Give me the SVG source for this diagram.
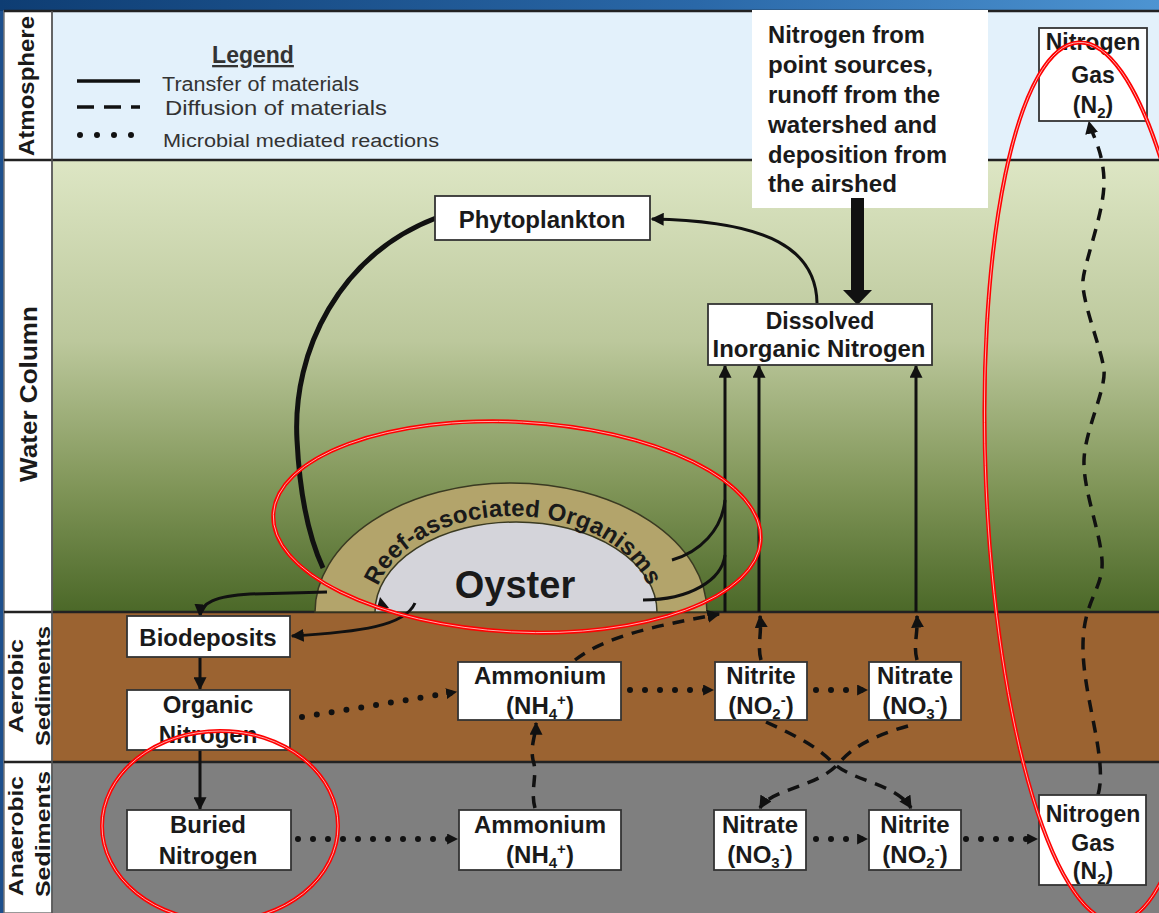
<svg xmlns="http://www.w3.org/2000/svg" width="1159" height="913" viewBox="0 0 1159 913">
<defs>
<linearGradient id="topbar" x1="0" y1="0" x2="1" y2="0"><stop offset="0" stop-color="#0e3d73"/><stop offset="0.6" stop-color="#2a68a8"/><stop offset="1" stop-color="#4d94d2"/></linearGradient>
<linearGradient id="water" x1="0" y1="0" x2="0" y2="1"><stop offset="0" stop-color="#dde6c4"/><stop offset="0.4" stop-color="#bcc89c"/><stop offset="0.72" stop-color="#819659"/><stop offset="1" stop-color="#4b6828"/></linearGradient>
<marker id="ah" viewBox="0 0 10 10" refX="9" refY="5" markerWidth="13" markerHeight="13" markerUnits="userSpaceOnUse" orient="auto"><path d="M0,0 L10,5 L0,10 z" fill="#111"/></marker>
<marker id="ahs" viewBox="0 0 10 10" refX="9" refY="5" markerWidth="11" markerHeight="11" markerUnits="userSpaceOnUse" orient="auto"><path d="M0,0 L10,5 L0,10 z" fill="#111"/></marker>
<path id="reefArc" d="M373,612 A140,96 0 0 1 653,612"/>
<style>
.box{fill:#fff;stroke:#333;stroke-width:1.8}
.bt{font-family:"Liberation Sans",Arial,sans-serif;font-weight:bold;font-size:24px;fill:#1a1a1a;text-anchor:middle}
.b23{font-size:23px}
.sm{font-size:15px}
.lab{font-family:"Liberation Sans",Arial,sans-serif;font-weight:bold;font-size:21px;fill:#1a1a1a;text-anchor:middle}
.leg{font-family:"Liberation Sans",Arial,sans-serif;font-size:20px;fill:#333}
.solid{fill:none;stroke:#111;stroke-width:3}
.dash{fill:none;stroke:#111;stroke-width:3.5;stroke-dasharray:12 9}
.dot{fill:none;stroke:#111;stroke-width:6;stroke-linecap:round;stroke-dasharray:0 15}
.sep{stroke:#222;stroke-width:2.5}
.red{fill:none;stroke:#ff0000;stroke-width:4}
.redin{fill:none;stroke:#ffd0d0;stroke-width:0.8}
</style>
</defs>

<g id="background">
<rect x="0" y="0" width="1159" height="913" fill="#1d4f8c"/>
<rect x="0" y="0" width="1159" height="11" fill="url(#topbar)"/>
<rect x="52" y="11" width="1107" height="149" fill="#e3f1fb"/>
<rect x="52" y="160" width="1107" height="452" fill="url(#water)"/>
<rect x="52" y="612" width="1107" height="150" fill="#9b6331"/>
<rect x="52" y="762" width="1107" height="151" fill="#7f7f7f"/>
<rect x="4" y="11" width="48" height="902" fill="#fff" stroke="#777" stroke-width="1.5"/>
<line class="sep" x1="4" y1="11" x2="1159" y2="11"/>
<line class="sep" x1="4" y1="160" x2="1159" y2="160"/>
<line class="sep" x1="4" y1="612" x2="1159" y2="612"/>
<line class="sep" x1="4" y1="762" x2="1159" y2="762"/>
<line x1="52" y1="11" x2="52" y2="913" stroke="#555" stroke-width="1.5"/>
</g>

<g id="zone-labels">
<text class="lab" transform="translate(34,86) rotate(-90)" style="font-size:22px" textLength="140" lengthAdjust="spacingAndGlyphs">Atmosphere</text>
<text class="lab" transform="translate(37,394) rotate(-90)" style="font-size:23px" textLength="176" lengthAdjust="spacingAndGlyphs">Water Column</text>
<text class="lab" transform="translate(23,686) rotate(-90)" textLength="94" lengthAdjust="spacingAndGlyphs">Aerobic</text>
<text class="lab" transform="translate(50,686) rotate(-90)" textLength="120" lengthAdjust="spacingAndGlyphs">Sediments</text>
<text class="lab" transform="translate(23,836) rotate(-90)" textLength="120" lengthAdjust="spacingAndGlyphs">Anaerobic</text>
<text class="lab" transform="translate(50,834) rotate(-90)" textLength="126" lengthAdjust="spacingAndGlyphs">Sediments</text>
</g>

<g id="legend">
<text class="bt" x="253" y="63" style="font-size:23px;fill:#333" text-decoration="underline">Legend</text>
<line x1="77" y1="81" x2="140" y2="81" stroke="#111" stroke-width="3.5"/>
<line x1="77" y1="107" x2="140" y2="107" stroke="#111" stroke-width="3.5" stroke-dasharray="17 10"/>
<line x1="80" y1="135" x2="135" y2="135" stroke="#111" stroke-width="6" stroke-linecap="round" stroke-dasharray="0 17"/>
<text class="leg" x="162" y="91" textLength="197" lengthAdjust="spacingAndGlyphs">Transfer of materials</text>
<text class="leg" x="165" y="115" style="font-size:21px" textLength="222" lengthAdjust="spacingAndGlyphs">Diffusion of materials</text>
<text class="leg" x="163" y="147" style="font-size:18px" textLength="276" lengthAdjust="spacingAndGlyphs">Microbial mediated reactions</text>
</g>

<g id="node-sources">
<rect x="752" y="10" width="236" height="198" fill="#fff"/>
<text class="bt b23" style="text-anchor:start">
<tspan x="768" y="43" textLength="157" lengthAdjust="spacingAndGlyphs">Nitrogen from</tspan>
<tspan x="768" y="73" textLength="165" lengthAdjust="spacingAndGlyphs">point sources,</tspan>
<tspan x="768" y="103" textLength="172" lengthAdjust="spacingAndGlyphs">runoff from the</tspan>
<tspan x="768" y="133" textLength="169" lengthAdjust="spacingAndGlyphs">watershed and</tspan>
<tspan x="768" y="163" textLength="179" lengthAdjust="spacingAndGlyphs">deposition from</tspan>
<tspan x="768" y="192" textLength="129" lengthAdjust="spacingAndGlyphs">the airshed</tspan>
</text>
</g>

<g id="node-oyster">
<path d="M315,612 A196,129 0 0 1 707,612 Z" fill="#b3a46b" stroke="#3a3a22" stroke-width="1.5"/>
<path d="M375,612 A141,90 0 0 1 657,612 Z" fill="#d4d4da" stroke="#3a3a22" stroke-width="1.5"/>
<text class="bt" x="515" y="598" style="font-size:38px">Oyster</text>
<text font-family="'Liberation Sans',Arial,sans-serif" font-weight="bold" font-size="24" fill="#1a1a1a" letter-spacing="0.2"><textPath href="#reefArc" startOffset="50%" text-anchor="middle">Reef-associated Organisms</textPath></text>
</g>

<g id="connectors">
<path d="M851,198 L864,198 L864,290 L872,290 L857.5,305 L843,290 L851,290 Z" fill="#111"/>
<path class="solid" d="M817,303 C816,250 770,221 652,219" marker-end="url(#ah)"/>
<path d="M436,218 C340,255 292,350 297,440 C300,500 310,540 323,568" fill="none" stroke="#111" stroke-width="5"/>
<path class="solid" d="M327,592 L250,594 C215,596 201,603 200,616" marker-end="url(#ah)"/>
<path class="solid" d="M415,603 C405,626 360,632 292,636" marker-end="url(#ah)"/>
<path d="M380,597 L389,608 L377,608 Z" fill="#111"/>
<path class="solid" d="M672,560 C700,552 722,530 725,500"/>
<path class="solid" d="M643,600 C690,600 722,580 725,555"/>
<path class="solid" d="M725,612 L725,366" marker-end="url(#ah)"/>
<path class="solid" d="M759,612 L759,366" marker-end="url(#ah)"/>
<path class="solid" d="M916,612 L916,366" marker-end="url(#ah)"/>
<path class="solid" d="M200,657 L200,689" marker-end="url(#ah)"/>
<path class="solid" d="M200,750 L200,809" marker-end="url(#ah)"/>
<path class="dash" d="M575,660 C610,632 680,622 719,614" marker-end="url(#ah)"/>
<path class="dash" d="M761,660 C757,645 762,635 760,616" marker-end="url(#ah)"/>
<path class="dash" d="M917,660 C913,645 918,635 917,616" marker-end="url(#ah)"/>
<path class="dash" d="M535,808 C530,790 538,775 533,760 C530,745 536,735 536,723" marker-end="url(#ah)"/>
<path class="dash" d="M766,722 C790,733 815,745 830,760 C850,782 895,782 911,808" marker-end="url(#ah)"/>
<path class="dash" d="M908,726 C872,736 852,748 840,762 C818,788 772,788 760,808" marker-end="url(#ah)"/>
<path class="dash" d="M1098,795 C1108,760 1084,700 1083,650 S1104,590 1102,560 S1083,490 1084,460 S1106,390 1104,370 S1081,300 1083,280 S1105,210 1104,180 S1092,135 1089,122" marker-end="url(#ah)"/>
<path class="dot" d="M302,717 L456,692" marker-end="url(#ahs)"/>
<path class="dot" d="M630,690 L713,690" marker-end="url(#ahs)"/>
<path class="dot" d="M816,690 L867,690" marker-end="url(#ahs)"/>
<path class="dot" d="M298,839 L457,839" marker-end="url(#ahs)"/>
<path class="dot" d="M816,839 L867,839" marker-end="url(#ahs)"/>
<path class="dot" d="M966,839 L1037,839" marker-end="url(#ahs)"/>
</g>

<g id="node-phytoplankton">
<rect class="box" x="435" y="196" width="215" height="44"/>
<text class="bt" x="542" y="228">Phytoplankton</text>
</g>
<g id="node-din">
<rect class="box" x="708" y="304" width="224" height="61"/>
<text class="bt b23" x="820" y="329">Dissolved</text>
<text class="bt b23" x="819" y="357" textLength="213" lengthAdjust="spacingAndGlyphs">Inorganic Nitrogen</text>
</g>
<g id="node-n2-top">
<rect class="box" x="1039" y="28" width="108" height="93"/>
<text class="bt b23" x="1093" y="50">Nitrogen</text>
<text class="bt b23" x="1093" y="83">Gas</text>
<text class="bt b23" x="1093" y="113">(N<tspan class="sm" dy="5">2</tspan><tspan dy="-5">)</tspan></text>
</g>
<g id="node-biodeposits">
<rect class="box" x="127" y="616" width="163" height="41"/>
<text class="bt" x="208" y="646">Biodeposits</text>
</g>
<g id="node-organic-n">
<rect class="box" x="127" y="690" width="163" height="60"/>
<text class="bt" x="208" y="713">Organic</text>
<text class="bt" x="208" y="743">Nitrogen</text>
</g>
<g id="node-ammonium-aer">
<rect class="box" x="458" y="662" width="163" height="58"/>
<text class="bt" x="540" y="684">Ammonium</text>
<text class="bt" x="540" y="714">(NH<tspan class="sm" dy="5">4</tspan><tspan class="sm" dy="-14">+</tspan><tspan dy="9">)</tspan></text>
</g>
<g id="node-nitrite-aer">
<rect class="box" x="715" y="662" width="92" height="58"/>
<text class="bt" x="761" y="684">Nitrite</text>
<text class="bt" x="761" y="714">(NO<tspan class="sm" dy="5">2</tspan><tspan class="sm" dy="-14">-</tspan><tspan dy="9">)</tspan></text>
</g>
<g id="node-nitrate-aer">
<rect class="box" x="869" y="662" width="92" height="58"/>
<text class="bt" x="915" y="684">Nitrate</text>
<text class="bt" x="915" y="714">(NO<tspan class="sm" dy="5">3</tspan><tspan class="sm" dy="-14">-</tspan><tspan dy="9">)</tspan></text>
</g>
<g id="node-buried-n">
<rect class="box" x="127" y="810" width="164" height="60"/>
<text class="bt" x="208" y="833">Buried</text>
<text class="bt" x="208" y="864">Nitrogen</text>
</g>
<g id="node-ammonium-an">
<rect class="box" x="459" y="810" width="162" height="60"/>
<text class="bt" x="540" y="833">Ammonium</text>
<text class="bt" x="540" y="863">(NH<tspan class="sm" dy="5">4</tspan><tspan class="sm" dy="-14">+</tspan><tspan dy="9">)</tspan></text>
</g>
<g id="node-nitrate-an">
<rect class="box" x="714" y="810" width="92" height="60"/>
<text class="bt" x="760" y="833">Nitrate</text>
<text class="bt" x="760" y="863">(NO<tspan class="sm" dy="5">3</tspan><tspan class="sm" dy="-14">-</tspan><tspan dy="9">)</tspan></text>
</g>
<g id="node-nitrite-an">
<rect class="box" x="869" y="810" width="92" height="60"/>
<text class="bt" x="915" y="833">Nitrite</text>
<text class="bt" x="915" y="863">(NO<tspan class="sm" dy="5">2</tspan><tspan class="sm" dy="-14">-</tspan><tspan dy="9">)</tspan></text>
</g>
<g id="node-n2-bottom">
<rect class="box" x="1039" y="795" width="107" height="90"/>
<text class="bt b23" x="1093" y="822">Nitrogen</text>
<text class="bt b23" x="1093" y="851">Gas</text>
<text class="bt b23" x="1093" y="879">(N<tspan class="sm" dy="5">2</tspan><tspan dy="-5">)</tspan></text>
</g>

<g id="annotations">
<ellipse class="red" cx="517" cy="527" rx="244" ry="105" transform="rotate(3 517 527)"/>
<ellipse class="redin" cx="517" cy="527" rx="244" ry="105" transform="rotate(3 517 527)"/>
<ellipse class="red" cx="220" cy="826" rx="118" ry="95"/>
<ellipse class="redin" cx="220" cy="826" rx="118" ry="95"/>
<ellipse class="red" cx="1098" cy="482" rx="112" ry="440" transform="rotate(-2.5 1098 482)"/>
<ellipse class="redin" cx="1098" cy="482" rx="112" ry="440" transform="rotate(-2.5 1098 482)"/>
</g>
</svg>
